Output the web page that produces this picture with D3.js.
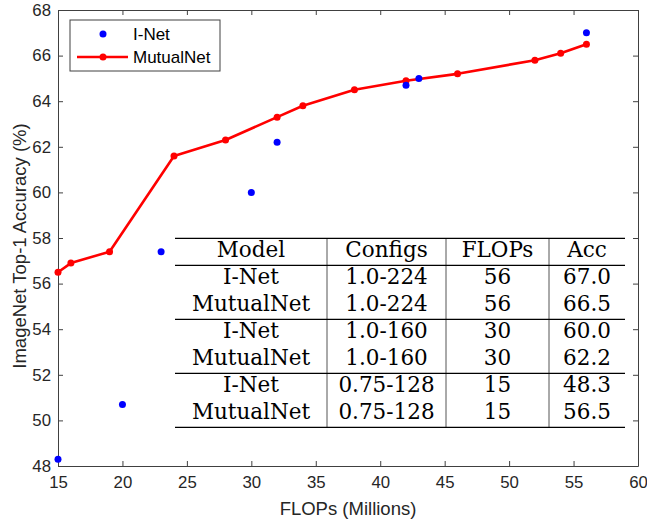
<!DOCTYPE html>
<html>
<head>
<meta charset="utf-8">
<script src="https://cdn.jsdelivr.net/npm/d3@7"></script>
<style>
  html, body { margin: 0; padding: 0; background: #fff; }
  svg { display: block; }
</style>
</head>
<body>
<svg id="chart" width="647" height="523"></svg>
<script>
// ---- data ----
const inetFlops = [15, 20, 23, 30, 32, 42, 43, 56];
const inetAcc = [48.3, 50.7, 57.4, 60.0, 62.2, 64.7, 65.0, 67.0];
const mutualFlops = [15, 16, 19, 24, 28, 32, 34, 38, 42, 46, 52, 54, 56];
const mutualAcc = [56.5, 56.9, 57.4, 61.6, 62.3, 63.3, 63.8, 64.5, 64.9, 65.2, 65.8, 66.1, 66.5];
const xTicks = [15, 20, 25, 30, 35, 40, 45, 50, 55, 60];
const yTicks = [48, 50, 52, 54, 56, 58, 60, 62, 64, 66, 68];
const seriesNames = ["I-Net", "MutualNet"];
const tableHeader = ["Model", "Configs", "FLOPs", "Acc"];
const tableModel = ["I-Net", "MutualNet", "I-Net", "MutualNet", "I-Net", "MutualNet"];
const tableConfigs = ["1.0-224", "1.0-224", "1.0-160", "1.0-160", "0.75-128", "0.75-128"];
const tableFlops = ["56", "56", "30", "30", "15", "15"];
const tableAcc = ["67.0", "66.5", "60.0", "62.2", "48.3", "56.5"];

const svg = d3.select("#chart");
const L = 58, R = 638, T = 10, B = 466;
const x = d3.scaleLinear().domain([15, 60]).range([L, R]);
const y = d3.scaleLinear().domain([48, 68]).range([B, T]);
const axisColor = "#404040";
const sans = "'Liberation Sans', Arial, sans-serif";

// axes (MATLAB style box with inward ticks)
const tickLen = 5;
const gx = svg.append("g").attr("transform", `translate(0,${B})`)
  .call(d3.axisBottom(x).tickValues(xTicks).tickSizeInner(-tickLen).tickSizeOuter(0).tickPadding(10));
const gxTop = svg.append("g").attr("transform", `translate(0,${T})`)
  .call(d3.axisTop(x).tickValues(xTicks).tickSizeInner(-tickLen).tickSizeOuter(0).tickFormat(""));
const gy = svg.append("g").attr("transform", `translate(${L},0)`)
  .call(d3.axisLeft(y).tickValues(yTicks).tickSizeInner(-tickLen).tickSizeOuter(0).tickPadding(7));
const gyR = svg.append("g").attr("transform", `translate(${R},0)`)
  .call(d3.axisRight(y).tickValues(yTicks).tickSizeInner(-tickLen).tickSizeOuter(0).tickFormat(""));
[gx, gxTop, gy, gyR].forEach(g => {
  g.select(".domain").attr("stroke", axisColor).attr("stroke-width", 1);
  g.selectAll(".tick line").attr("stroke", axisColor);
  g.selectAll(".tick text").attr("fill", "#262626").style("font-family", sans).style("font-size", "16.8px");
});

// axis labels
svg.append("text").attr("x", (L + R) / 2).attr("y", 515).attr("text-anchor", "middle")
  .style("font-family", sans).style("font-size", "18.5px").attr("fill", "#262626")
  .text("FLOPs (Millions)");
svg.append("text").attr("transform", `translate(26,${(T + B) / 2 + 8}) rotate(-90)`).attr("text-anchor", "middle")
  .style("font-family", sans).style("font-size", "18.5px").attr("fill", "#262626")
  .text("ImageNet Top-1 Accuracy (%)");

// table
const serif = "'DejaVu Serif', serif";
const cols = d3.scaleOrdinal().domain([0, 1, 2, 3]).range([[175, 327], [327, 446], [446, 549], [549, 625]]);
const rows = d3.scaleBand().domain(d3.range(7)).range([238.3, 427.3]);
const tbl = svg.append("g");
const tableRows = [tableHeader].concat(tableModel.map((m, i) => [m, tableConfigs[i], tableFlops[i], tableAcc[i]]));
// vertical separators
[1, 2, 3].forEach(c => {
  tbl.append("line").attr("x1", cols(c)[0]).attr("x2", cols(c)[0])
    .attr("y1", rows(0)).attr("y2", rows(6) + rows.bandwidth())
    .attr("stroke", "#555").attr("stroke-width", 1);
});
// horizontal rules
[0, 1, 3, 5, 7].forEach(r => {
  const yy = r < 7 ? rows(r) : rows(6) + rows.bandwidth();
  tbl.append("line").attr("x1", 175).attr("x2", 625).attr("y1", yy).attr("y2", yy)
    .attr("stroke", "#000").attr("stroke-width", 1.3);
});
tableRows.forEach((row, r) => {
  row.forEach((cell, c) => {
    const [a, b] = cols(c);
    tbl.append("text").attr("x", (a + b) / 2).attr("y", rows(r) + rows.bandwidth() * 0.71)
      .attr("text-anchor", "middle").style("font-family", serif).style("font-size", "21.5px")
      .attr("fill", "#000").text(cell);
  });
});

// MutualNet line
const mData = mutualFlops.map((f, i) => [f, mutualAcc[i]]);
svg.append("path").datum(mData)
  .attr("d", d3.line().x(d => x(d[0])).y(d => y(d[1])))
  .attr("fill", "none").attr("stroke", "#ff0000").attr("stroke-width", 2.6).attr("stroke-linejoin", "round");
svg.append("g").selectAll("circle").data(mData).join("circle")
  .attr("cx", d => x(d[0])).attr("cy", d => y(d[1])).attr("r", 3.5).attr("fill", "#ff0000");

// I-Net points
const iData = inetFlops.map((f, i) => [f, inetAcc[i]]);
svg.append("g").selectAll("circle").data(iData).join("circle")
  .attr("cx", d => x(d[0])).attr("cy", d => y(d[1])).attr("r", 3.5).attr("fill", "#0000ff");

// legend
const lg = svg.append("g");
lg.append("rect").attr("x", 70).attr("y", 20).attr("width", 150).attr("height", 51)
  .attr("fill", "#fff").attr("stroke", axisColor).attr("stroke-width", 1);
lg.append("circle").attr("cx", 103).attr("cy", 34).attr("r", 3.5).attr("fill", "#0000ff");
lg.append("line").attr("x1", 77).attr("x2", 128).attr("y1", 57).attr("y2", 57)
  .attr("stroke", "#ff0000").attr("stroke-width", 2.6);
lg.append("circle").attr("cx", 103).attr("cy", 57).attr("r", 3.5).attr("fill", "#ff0000");
seriesNames.forEach((n, i) => {
  lg.append("text").attr("x", 133).attr("y", [34, 57][i] + 6)
    .style("font-family", sans).style("font-size", "17px").attr("fill", "#000").text(n);
});
</script>
</body>
</html>
